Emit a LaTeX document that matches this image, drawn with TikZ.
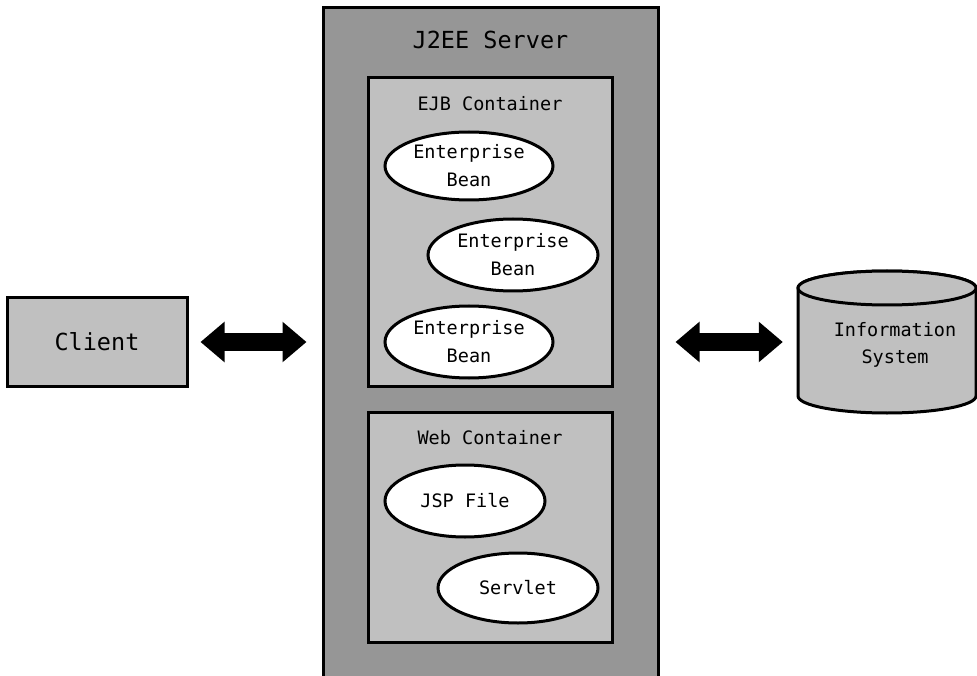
\documentclass[tikz,border=0pt]{standalone}
\usepackage{fontspec}
\setmonofont{DejaVu Sans Mono}
\usetikzlibrary{arrows.meta,shapes.geometric}
\definecolor{srvgray}{gray}{0.59}
\definecolor{contgray}{gray}{0.753}
\begin{document}
\begin{tikzpicture}[x=1pt,y=-1pt,
  box/.style={draw=black,line width=3pt,rectangle,inner sep=0pt},
  bean/.style={draw=black,line width=3pt,ellipse,fill=white,inner sep=0pt,
    font=\ttfamily\fontsize{18.5}{28}\selectfont,align=center},
  lbl/.style={font=\ttfamily\fontsize{18.5}{27}\selectfont,align=center,inner sep=0pt},
  biglbl/.style={font=\ttfamily\fontsize{23.5}{28}\selectfont,inner sep=0pt},
  bigarrow/.style={line width=18pt,{Triangle[length=24pt,width=39pt]}-{Triangle[length=24pt,width=39pt]}}
]
\useasboundingbox (0,0) rectangle (977,676);
% server
\node[box,fill=srvgray,minimum width=335pt,minimum height=669pt] (server) at (490.5,342.5) {};
\node[biglbl] (servert) at (490.5,40) {J2EE Server};
% EJB container
\node[box,fill=contgray,minimum width=244pt,minimum height=308pt] (ejb) at (490,232) {};
\node[lbl] (ejbt) at (490,104) {EJB Container};
\node[bean,minimum width=168pt,minimum height=68pt] (b1) at (469,166) {Enterprise\\Bean};
\node[bean,minimum width=170pt,minimum height=72pt] (b2) at (513,255) {Enterprise\\Bean};
\node[bean,minimum width=168pt,minimum height=72pt] (b3) at (469,342) {Enterprise\\Bean};
% Web container
\node[box,fill=contgray,minimum width=244pt,minimum height=230pt] (web) at (490,527) {};
\node[lbl] (webt) at (490,438) {Web Container};
\node[bean,minimum width=160pt,minimum height=72pt] (jsp) at (465,501) {JSP File};
\node[bean,minimum width=160pt,minimum height=70pt] (servlet) at (518,588) {Servlet};
% client
\node[box,fill=contgray,minimum width=180pt,minimum height=88pt,biglbl] (client) at (97,342) {Client};
% information system cylinder
\path[draw=black,line width=3pt,fill=contgray]
  (798,288) -- (798,396) arc[start angle=180,end angle=0,x radius=89,y radius=17]
  -- (976,288) arc[start angle=0,end angle=-180,x radius=89,y radius=17] -- cycle;
\draw[line width=3pt,fill=contgray] (887,288) ellipse[x radius=89,y radius=17];
\node[minimum width=178pt,minimum height=142pt,inner sep=0pt] (db) at (887,342) {};
\node[lbl] (dbt) at (895,345) {Information\\System};
% arrows
\draw[bigarrow] ([xshift=12pt]client.east) -- ([xshift=-15pt]client.east -| server.west);
\draw[bigarrow] ([xshift=16pt]db.west -| server.east) -- ([xshift=-15pt]db.west);
\end{tikzpicture}
\end{document}
